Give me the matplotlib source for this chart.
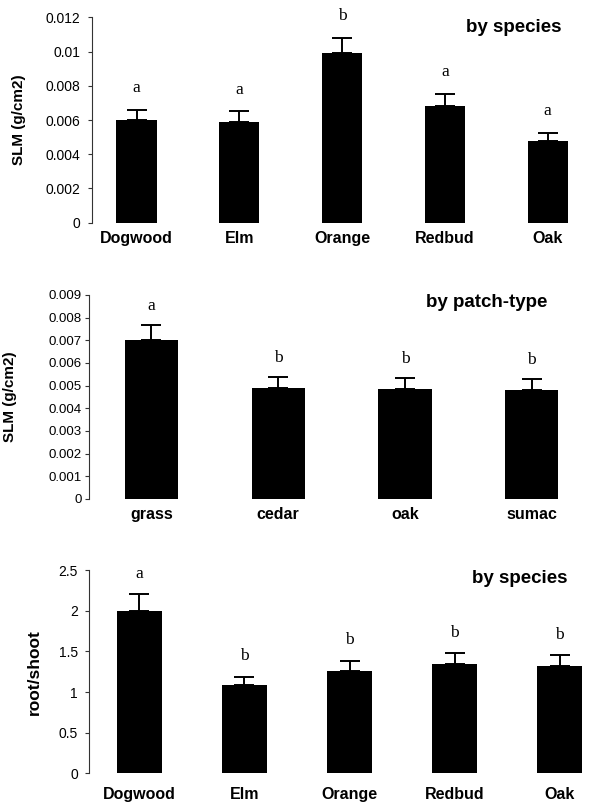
import numpy as np
import matplotlib.pyplot as plt

plt.rcParams['font.family'] = ['Liberation Sans', 'DejaVu Sans']

# top panel: SLM by species
species = ['Dogwood', 'Elm', 'Orange', 'Redbud', 'Oak']
slm_species = [0.0060, 0.0059, 0.0099, 0.0068, 0.0048]
slm_species_se = [0.0006, 0.0006, 0.0009, 0.0007, 0.00047]
slm_species_grp = ['a', 'a', 'b', 'a', 'a']

# middle panel: SLM by patch-type
patches = ['grass', 'cedar', 'oak', 'sumac']
slm_patch = [0.0070, 0.0049, 0.00485, 0.0048]
slm_patch_se = [0.00068, 0.00047, 0.0005, 0.0005]
slm_patch_grp = ['a', 'b', 'b', 'b']

# bottom panel: root/shoot by species
rs_species = [2.0, 1.08, 1.26, 1.34, 1.32]
rs_species_se = [0.2, 0.11, 0.125, 0.135, 0.135]
rs_species_grp = ['a', 'b', 'b', 'b', 'b']

fig = plt.figure(figsize=(5.89, 8.09), dpi=100)


def panel(rect, names, vals, se, grp, ylim, yticks, ylabel, title,
          xlim, width, tick_fs, tick_pad, lab_x, xlab_pad, grp_off):
    ax = fig.add_axes(rect)
    x = np.arange(len(names))
    ax.bar(x, vals, width=width, color='black')
    # only the upper half of the error bar is shown
    ax.errorbar(x, vals, yerr=[np.zeros(len(se)), se], fmt='none',
                ecolor='black', elinewidth=1.4, capsize=7, capthick=1.4)
    for xi, v, e, g in zip(x, vals, se, grp):
        ax.annotate(g, (xi, v + e), xytext=(0, grp_off), textcoords='offset points',
                    ha='center', va='bottom', fontsize=12.5, family='Liberation Serif')
    ax.set_xlim(xlim)
    ax.set_ylim(ylim)
    ax.set_yticks(yticks)
    ax.set_yticklabels([('%g' % t) for t in yticks], fontsize=tick_fs)
    ax.set_xticks(x)
    ax.set_xticklabels(names, fontsize=11.5, fontweight='bold')
    ax.tick_params(axis='x', length=0, pad=xlab_pad)
    ax.tick_params(axis='y', length=3, width=0.8, pad=tick_pad, color='#333333')
    for s in ['top', 'right', 'bottom']:
        ax.spines[s].set_visible(False)
    ax.spines['left'].set_linewidth(0.8)
    ax.spines['left'].set_color('#333333')
    ax.set_ylabel(ylabel, fontsize=11 if 'SLM' in ylabel else 12.5, fontweight='bold')
    ax.yaxis.set_label_coords(lab_x, 0.5)
    ax.text(title[1], title[2], title[0], transform=ax.transAxes, ha='right',
            va='center', fontsize=13.5, fontweight='bold')
    return ax


panel([0.1562, 0.7247, 0.826, 0.2539], species, slm_species, slm_species_se,
      slm_species_grp, (0, 0.012), [0, 0.002, 0.004, 0.006, 0.008, 0.01, 0.012],
      'SLM (g/cm2)', ('by species', 0.966, 0.951), (-0.433, 4.3), 0.39,
      10, 5.5, -0.135, 6, 10)

panel([0.151, 0.3832, 0.842, 0.2522], patches, slm_patch, slm_patch_se,
      slm_patch_grp, (0, 0.009), [0, 0.001, 0.002, 0.003, 0.004, 0.005, 0.006,
                                  0.007, 0.008, 0.009],
      'SLM (g/cm2)', ('by patch-type', 0.924, 0.961), (-0.493, 3.42), 0.42,
      9.5, 2, -0.145, 6, 8)

panel([0.151, 0.0441, 0.849, 0.2513], species, rs_species, rs_species_se,
      rs_species_grp, (0, 2.5), [0, 0.5, 1, 1.5, 2, 2.5],
      'root/shoot', ('by species', 0.958, 0.956), (-0.481, 4.28), 0.43,
      10, 5, -0.094, 10, 9)

plt.savefig('out.png', dpi=100)
